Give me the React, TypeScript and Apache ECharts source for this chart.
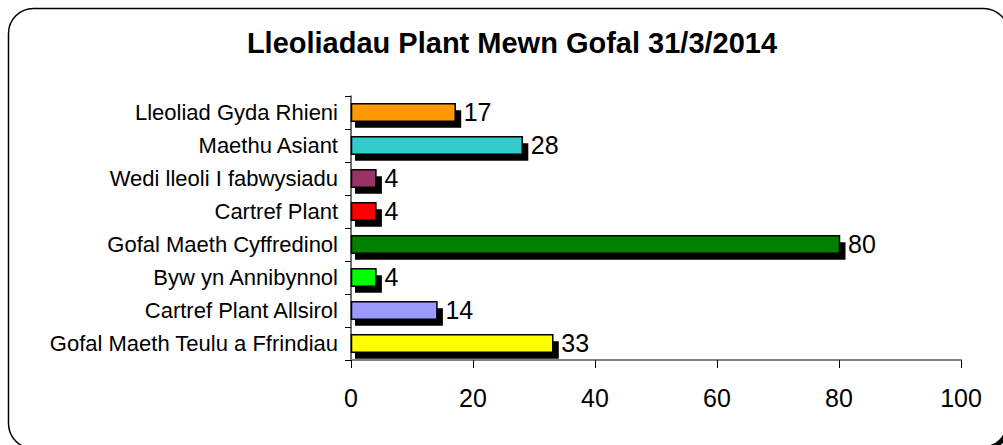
import React, { useEffect, useRef } from "react";
import * as echarts from "echarts";

const titleText = "Lleoliadau Plant Mewn Gofal 31/3/2014";
const categories = [
  "Lleoliad Gyda Rhieni",
  "Maethu Asiant",
  "Wedi lleoli I fabwysiadu",
  "Cartref Plant",
  "Gofal Maeth Cyffredinol",
  "Byw yn Annibynnol",
  "Cartref Plant Allsirol",
  "Gofal Maeth Teulu a Ffrindiau",
];
const values = [17, 28, 4, 4, 80, 4, 14, 33];
const barColors = ["#FF9900", "#33CCCC", "#993366", "#FF0000", "#008000", "#00FF00", "#9999FF", "#FFFF00"];
const xTicks = { min: 0, max: 100, interval: 20 };

const FONT = '"Liberation Sans", Arial, sans-serif';

export default function App() {
  const ref = useRef<HTMLDivElement>(null);
  useEffect(() => {
    if (!ref.current) return;
    const chart = echarts.init(ref.current, null, { renderer: "svg" });
    chart.setOption({
      animation: false,
      backgroundColor: "#fff",
      title: {
        text: titleText,
        left: 507,
        top: 23,
        textAlign: "center",
        textStyle: { fontSize: 29, fontWeight: "bold", fontFamily: FONT, color: "#000" },
      },
      graphic: [
        {
          type: "rect",
          shape: { x: 8.5, y: 8.5, width: 1000, height: 440, r: 25 },
          style: { fill: "none", stroke: "#000", lineWidth: 1.5 },
          z: 100,
        },
        {
          type: "arc",
          shape: { cx: 983.5, cy: 423.5, r: 25, startAngle: 0, endAngle: Math.PI / 2 },
          style: { fill: "none", stroke: "#000", lineWidth: 5 },
          z: 100,
        },
      ],
      grid: { left: 351, right: 42, top: 96, bottom: 85 },
      xAxis: {
        type: "value",
        min: xTicks.min,
        max: xTicks.max,
        interval: xTicks.interval,
        axisLine: { show: true, lineStyle: { color: "#808080", width: 2 } },
        axisTick: { show: true, length: 8, lineStyle: { color: "#000", width: 1 } },
        axisLabel: { fontSize: 25, color: "#000", margin: 25, fontFamily: FONT },
        splitLine: { show: false },
      },
      yAxis: {
        type: "category",
        data: categories,
        inverse: true,
        axisLine: { show: true, lineStyle: { color: "#404040", width: 1.5 } },
        axisTick: { show: true, length: 6, lineStyle: { color: "#000", width: 1 } },
        axisLabel: { fontSize: 22, color: "#000", margin: 13, fontFamily: FONT },
      },
      series: [
        {
          type: "custom",
          encode: { x: 0, y: 1 },
          data: values.map((v, i) => [v, i]),
          renderItem: (params: any, api: any) => {
            const v = api.value(0);
            const idx = api.value(1);
            const p0 = api.coord([0, idx]);
            const p1 = api.coord([v, idx]);
            const band = api.size([0, 1])[1];
            const h = band * 0.53;
            const y0 = p0[1] - h / 2;
            const w = p1[0] - p0[0];
            return {
              type: "group",
              children: [
                {
                  type: "rect",
                  shape: { x: p0[0] + 4, y: y0 + 6.5, width: w + 2.5, height: h },
                  style: { fill: "#000" },
                },
                {
                  type: "rect",
                  shape: { x: p0[0] + 0.5, y: y0, width: w, height: h },
                  style: { fill: barColors[params.dataIndex], stroke: "#000", lineWidth: 1.5 },
                },
                {
                  type: "text",
                  style: {
                    text: String(v),
                    x: p1[0] + 9,
                    y: p0[1] - 1,
                    align: "left",
                    verticalAlign: "middle",
                    fill: "#000",
                    font: `25px ${FONT}`,
                  },
                },
              ],
            };
          },
        },
      ],
    });
    return () => chart.dispose();
  }, []);
  return (
    <div
      ref={ref}
      style={{ position: "fixed", left: 0, top: 0, width: 1003, height: 445 }}
    />
  );
}
